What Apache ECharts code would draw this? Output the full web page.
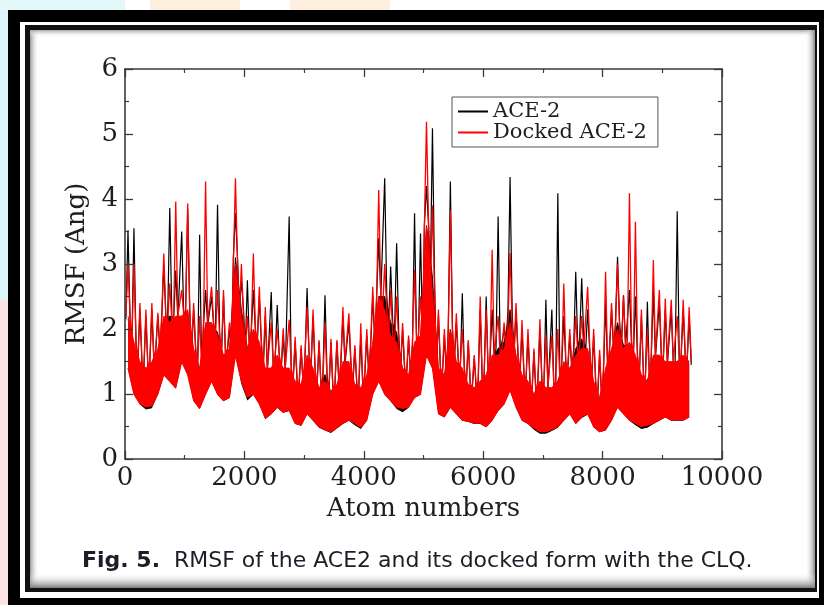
<!DOCTYPE html>
<html>
<head>
<meta charset="utf-8">
<script src="https://cdn.jsdelivr.net/npm/echarts@6/dist/echarts.min.js"></script>
<style>
html,body{margin:0;padding:0;background:#fff;}
#chart{width:824px;height:605px;}
</style>
</head>
<body>
<div id="chart"></div>
<script>
// Atom bins of 100 atoms each (bin i covers atoms i*100 .. i*100+100)
const binWidth = 100;
// Docked ACE-2 (red): per-bin minimum, dense-band top and spike maximum RMSF (Å)
const dockedLo = [
  1.4, 1.0, 0.85, 0.8, 0.82,   1.0, 1.3, 1.2, 1.1, 1.5,
  1.3, 0.9, 0.78, 1.0, 1.2,    1.0, 0.9, 0.95, 1.6, 1.2,
  0.95, 1.0, 0.85, 0.63, 0.7,  0.8, 0.72, 0.75, 0.55, 0.52,
  0.7, 0.6, 0.5, 0.45, 0.42,   0.48, 0.55, 0.6, 0.55, 0.49,
  0.6, 1.0, 1.2, 1.0, 0.9,     0.8, 0.78, 0.8, 0.95, 1.0,
  1.6, 1.4, 0.7, 0.65, 0.8,    0.7, 0.6, 0.58, 0.55, 0.55,
  0.5, 0.6, 0.75, 0.85, 1.06,  0.8, 0.6, 0.55, 0.48, 0.42,
  0.42, 0.45, 0.5, 0.6, 0.7,   0.55, 0.65, 0.7, 0.5, 0.42,
  0.45, 0.6, 0.8, 0.7, 0.6,    0.55, 0.5, 0.52, 0.55, 0.6,
  0.65, 0.6, 0.6, 0.6, 0.65
];
const dockedMid = [
  2.2, 1.8, 1.5, 1.4, 1.5,     1.7, 2.2, 2.1, 2.2, 2.2,
  2.3, 1.7, 1.4, 2.1, 2.1,     1.9, 1.6, 1.7, 3.0, 2.2,
  1.7, 2.0, 1.8, 1.4, 1.4,     1.6, 1.4, 1.4, 1.2, 1.15,
  1.6, 1.4, 1.1, 1.2, 1.05,    1.15, 1.5, 1.5, 1.15, 1.1,
  1.3, 1.8, 2.5, 2.3, 1.9,     1.8, 1.4, 1.3, 1.8, 1.9,
  3.6, 2.6, 1.4, 1.3, 2.0,     1.5, 1.4, 1.15, 1.1, 1.2,
  1.3, 1.6, 1.6, 1.7, 2.1,     1.6, 1.3, 1.2, 1.0, 1.2,
  1.1, 1.1, 1.2, 1.5, 1.4,     1.6, 1.7, 1.7, 1.2, 0.95,
  1.4, 1.7, 2.0, 1.7, 1.8,     1.6, 1.3, 1.2, 1.6, 1.6,
  1.5, 1.5, 1.5, 1.6, 1.5
];
const dockedHi = [
  3.0, 3.0, 2.4, 2.3, 2.4,     2.25, 3.16, 2.7, 3.96, 2.6,
  3.93, 2.4, 2.2, 4.27, 2.65,  2.6, 2.6, 2.1, 4.32, 3.0,
  2.2, 3.16, 2.65, 2.34, 2.1,  2.0, 2.01, 2.14, 1.88, 1.75,
  2.34, 2.3, 1.83, 2.1, 1.85,  1.83, 2.34, 2.24, 1.75, 2.09,
  2.0, 2.65, 4.14, 3.0, 2.6,   2.5, 2.09, 1.9, 2.91, 2.5,
  5.19, 3.9, 2.3, 2.0, 3.83,   2.24, 2.0, 1.83, 1.6, 2.5,
  2.3, 3.22, 2.2, 2.1, 3.17,   2.4, 2.14, 2.0, 1.7, 2.15,
  1.9, 1.9, 2.0, 2.7, 2.0,     2.2, 2.2, 2.65, 2.0, 1.68,
  2.88, 2.4, 3.0, 2.5, 4.09,   3.65, 2.3, 2.0, 3.06, 2.6,
  2.47, 2.45, 2.2, 2.45, 2.34
];
// ACE-2 (black): per-bin minimum, dense-band top and spike maximum RMSF (Å)
const aceLo = [
  1.39, 0.99, 0.84, 0.76, 0.78, 0.99, 1.29, 1.19, 1.08, 1.49,
  1.29, 0.89, 0.77, 0.99, 1.19, 0.99, 0.89, 0.94, 1.59, 1.15,
  0.9, 0.99, 0.84, 0.61, 0.69,  0.79, 0.71, 0.74, 0.54, 0.51,
  0.69, 0.59, 0.48, 0.44, 0.4,  0.47, 0.54, 0.59, 0.52, 0.46,
  0.59, 0.99, 1.19, 0.99, 0.89, 0.77, 0.72, 0.79, 0.94, 0.99,
  1.59, 1.39, 0.69, 0.64, 0.79, 0.69, 0.59, 0.57, 0.54, 0.54,
  0.49, 0.59, 0.74, 0.84, 1.05, 0.79, 0.59, 0.54, 0.45, 0.39,
  0.39, 0.43, 0.48, 0.59, 0.69, 0.54, 0.63, 0.68, 0.49, 0.41,
  0.44, 0.59, 0.79, 0.69, 0.59, 0.52, 0.46, 0.48, 0.54, 0.59,
  0.64, 0.59, 0.59, 0.59, 0.64
];
const aceMid = [
  2.15, 1.75, 1.45, 1.35, 1.45, 1.65, 2.15, 2.2, 2.15, 2.15,
  2.25, 1.65, 1.35, 2.05, 2.05, 1.95, 1.55, 1.65, 3.1, 2.3,
  1.7, 1.95, 1.75, 1.35, 1.35,  1.55, 1.35, 1.35, 1.15, 1.1,
  1.55, 1.35, 1.05, 1.3, 1.0,   1.1, 1.45, 1.45, 1.1, 1.05,
  1.25, 1.75, 2.5, 2.5, 2.1,    1.95, 1.35, 1.25, 1.75, 1.85,
  3.6, 2.8, 1.35, 1.25, 2.0,    1.45, 1.35, 1.1, 1.05, 1.15,
  1.25, 1.55, 1.7, 1.8, 2.3,    1.55, 1.25, 1.15, 0.95, 1.15,
  1.05, 1.05, 1.2, 1.45, 1.35,  1.7, 1.85, 1.65, 1.15, 0.9,
  1.35, 1.65, 2.1, 1.75, 1.75,  1.55, 1.25, 1.2, 1.55, 1.55,
  1.45, 1.45, 1.5, 1.55, 1.45
];
const aceHi = [
  3.52, 3.55, 2.3, 2.2, 2.3,   2.2, 3.0, 3.86, 2.9, 3.5,
  3.85, 2.3, 3.45, 2.6, 2.5,   3.91, 2.5, 2.0, 3.78, 2.75,
  2.75, 2.6, 2.5, 2.2, 2.57,   2.37, 1.9, 3.73, 1.8, 1.7,
  2.63, 2.2, 1.8, 2.52, 1.8,   1.8, 2.2, 2.1, 1.7, 1.9,
  1.9, 2.5, 3.4, 4.32, 2.96,   3.32, 2.0, 1.85, 3.78, 3.47,
  4.2, 5.09, 2.2, 1.9, 4.27,   2.1, 2.55, 1.8, 1.55, 2.3,
  2.5, 2.3, 3.73, 2.0, 4.34,   2.3, 2.0, 1.9, 1.65, 2.0,
  2.45, 2.3, 4.09, 2.2, 1.9,   2.88, 2.78, 2.3, 1.9, 1.6,
  2.4, 2.3, 3.11, 2.52, 2.6,   2.5, 2.2, 2.42, 2.6, 2.4,
  2.3, 2.3, 3.81, 2.3, 2.2
];
const seriesNames = ['ACE-2', 'Docked ACE-2'];
const xTicks = [0, 2000, 4000, 6000, 8000, 10000];
const yTicks = [0, 1, 2, 3, 4, 5, 6];
const caption = ['Fig. 5.', 'RMSF of the ACE2 and its docked form with the CLQ.'];

// rows of [value, atom] at bin centres (value first so stacking applies to y)
function rowsVX(vals) { return vals.map((v, i) => [v, i * binWidth + binWidth / 2]); }
function spanRows(lo, mid) { return lo.map((v, i) => [+(mid[i] - v).toFixed(3), i * binWidth + binWidth / 2]); }
// thin spikes rising from the band top
function spikes(mid, hi) {
  const pts = [];
  for (let i = 0; i < hi.length; i++) {
    pts.push([i * binWidth + binWidth * 0.15, mid[i]]);
    pts.push([i * binWidth + binWidth * 0.5, hi[i]]);
    pts.push([i * binWidth + binWidth * 0.85, mid[i]]);
  }
  return pts;
}

const chart = echarts.init(document.getElementById('chart'), null, {renderer: 'canvas'});
const serif = 'DejaVu Serif';
const axisCol = '#3a3a3a';
const tickFont = {fontFamily: serif, fontSize: 26, color: '#1e1e1e'};

function xAxisDef(pos) {
  const top = pos === 'top';
  return {
    type: 'value', position: pos, min: xTicks[0], max: xTicks[xTicks.length - 1],
    interval: xTicks[1] - xTicks[0], z: 20,
    axisLine: {show: true, onZero: false, lineStyle: {color: axisCol, width: 1.6}},
    axisTick: {show: true, inside: true, length: 8, lineStyle: {color: axisCol, width: 1.3}},
    minorTick: {show: true, splitNumber: 2, length: 4, lineStyle: {color: axisCol, width: 1.2}},
    splitLine: {show: false}, minorSplitLine: {show: false},
    axisLabel: top ? {show: false} : Object.assign({margin: 6, formatter: v => String(v)}, tickFont),
    name: top ? '' : 'Atom numbers', nameLocation: 'middle', nameGap: 30,
    nameTextStyle: {fontFamily: serif, fontSize: 26, color: '#1e1e1e'}
  };
}
function yAxisDef(pos) {
  const right = pos === 'right';
  return {
    type: 'value', position: pos, min: yTicks[0], max: yTicks[yTicks.length - 1],
    interval: yTicks[1] - yTicks[0], z: 20,
    axisLine: {show: true, onZero: false, lineStyle: {color: axisCol, width: 1.6}},
    axisTick: {show: true, inside: true, length: 8, lineStyle: {color: axisCol, width: 1.3}},
    minorTick: {show: true, splitNumber: 2, length: 4, lineStyle: {color: axisCol, width: 1.2}},
    splitLine: {show: false}, minorSplitLine: {show: false},
    axisLabel: right ? {show: false} : Object.assign({margin: 7, formatter: v => String(v)}, tickFont),
    name: right ? '' : 'RMSF (Ang)', nameLocation: 'middle', nameGap: 25,
    nameTextStyle: {fontFamily: serif, fontSize: 26, color: '#1e1e1e'}
  };
}

const graphics = [
  {type: 'rect', z: -10, shape: {x: 0, y: 0, width: 8, height: 300}, style: {fill: '#dcf6fa'}},
  {type: 'rect', z: -10, shape: {x: 0, y: 300, width: 8, height: 305}, style: {fill: '#fde4e4'}},
  {type: 'rect', z: -10, shape: {x: 0, y: 0, width: 125, height: 10}, style: {fill: '#e2f8fb'}},
  {type: 'rect', z: -10, shape: {x: 150, y: 0, width: 90, height: 10}, style: {fill: '#fdeede'}},
  {type: 'rect', z: -10, shape: {x: 290, y: 0, width: 100, height: 10}, style: {fill: '#fdeede'}},
  {type: 'rect', z: -9, shape: {x: 8, y: 10, width: 816, height: 595}, style: {fill: '#000'}},
  {type: 'rect', z: -8, shape: {x: 20, y: 22, width: 799, height: 576}, style: {fill: '#fff'}},
  {type: 'rect', z: -7, shape: {x: 25, y: 25, width: 792, height: 567}, style: {fill: '#111'}},
  {type: 'rect', z: -6, shape: {x: 30, y: 30, width: 785, height: 558}, style: {fill: '#fff'}},
  {type: 'rect', z: -5, shape: {x: 30, y: 30, width: 9, height: 558},
    style: {fill: new echarts.graphic.LinearGradient(0, 0, 1, 0, [{offset: 0, color: '#9a9a9a'}, {offset: 1, color: 'rgba(255,255,255,0)'}])}},
  {type: 'rect', z: -5, shape: {x: 30, y: 30, width: 785, height: 7},
    style: {fill: new echarts.graphic.LinearGradient(0, 0, 0, 1, [{offset: 0, color: '#a8a8a8'}, {offset: 1, color: 'rgba(255,255,255,0)'}])}},
  {type: 'rect', z: -5, shape: {x: 805, y: 30, width: 10, height: 558},
    style: {fill: new echarts.graphic.LinearGradient(0, 0, 1, 0, [{offset: 0, color: 'rgba(255,255,255,0)'}, {offset: 1, color: '#8a8a8a'}])}},
  {type: 'rect', z: -5, shape: {x: 30, y: 573, width: 785, height: 15},
    style: {fill: new echarts.graphic.LinearGradient(0, 0, 0, 1, [{offset: 0, color: 'rgba(255,255,255,0)'}, {offset: 1, color: '#7a7a7a'}])}},
  {type: 'text', z: 10, x: 82, y: 561,
    style: {text: '{b|' + caption[0] + '}  ' + caption[1], fill: '#1d1d28',
      font: '22px "DejaVu Sans"', verticalAlign: 'middle', align: 'left',
      rich: {b: {fontWeight: 'bold', fontFamily: 'DejaVu Sans', fontSize: 22, fill: '#1d1d28'}}}}
];

// dense band between lo and mid, built with a stack on the value dimension
function band(stackId, lo, mid, color, z, baseLineW) {
  const enc = {x: 1, y: 0};
  return [
    {name: '', type: 'line', stack: stackId, data: rowsVX(lo), encode: enc,
      dimensions: ['v', 'atom'], showSymbol: false, symbol: 'none',
      lineStyle: baseLineW ? {color: color, width: baseLineW} : {width: 0, opacity: 0},
      silent: true, z: z},
    {name: '', type: 'line', stack: stackId, data: spanRows(lo, mid), encode: enc,
      dimensions: ['v', 'atom'], showSymbol: false, symbol: 'none',
      lineStyle: {color: color, width: 0.8}, areaStyle: {color: color, opacity: 1},
      silent: true, z: z}
  ];
}

chart.setOption({
  animation: false,
  backgroundColor: '#fff',
  grid: {left: 125, top: 69, right: 102, bottom: 146, containLabel: false},
  legend: {
    show: true, orient: 'vertical', left: 452, top: 97, z: 30,
    padding: [4, 11, 4, 6], itemGap: 0, itemWidth: 30, itemHeight: 2, icon: 'rect',
    borderColor: '#555', borderWidth: 1, backgroundColor: '#fff',
    textStyle: {fontFamily: serif, fontSize: 21, color: '#1e1e1e', lineHeight: 21},
    data: seriesNames, selectedMode: false
  },
  xAxis: [xAxisDef('bottom'), xAxisDef('top')],
  yAxis: [yAxisDef('left'), yAxisDef('right')],
  graphic: graphics,
  series: [
    ...band('ace', aceLo, aceMid, '#000000', 1, 0),
    {name: seriesNames[0], type: 'line', data: spikes(aceMid, aceHi), showSymbol: false,
      symbol: 'none', lineStyle: {color: '#000', width: 1.2}, itemStyle: {color: '#000'}, z: 2},
    ...band('docked', dockedLo, dockedMid, '#ff0000', 3, 1.2),
    {name: seriesNames[1], type: 'line', data: spikes(dockedMid, dockedHi), showSymbol: false,
      symbol: 'none', lineStyle: {color: '#ff0000', width: 1.3}, itemStyle: {color: '#ff0000'}, z: 4}
  ]
});
</script>
</body>
</html>
